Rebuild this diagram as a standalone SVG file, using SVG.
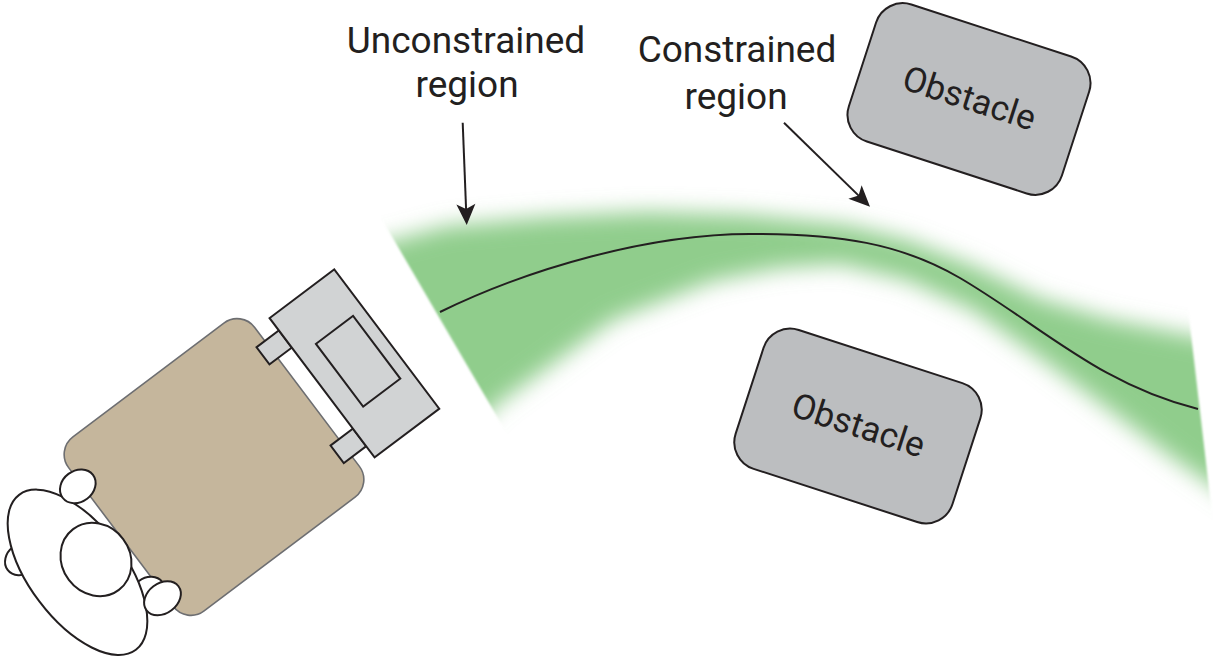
<svg xmlns="http://www.w3.org/2000/svg" width="1224" height="662" viewBox="0 0 1224 662">
  <defs>
    <style>
      .ink { stroke: #231f20; stroke-width: 2; }
      .label { font-family: Roboto, "Open Sans", "Liberation Sans", sans-serif; font-size: 37px; fill: #231f20; text-anchor: middle; }
      .obs-text { font-family: Roboto, "Open Sans", "Liberation Sans", sans-serif; font-size: 35px; fill: #231f20; text-anchor: middle; }
      .obstacle { fill: #bcbec0; stroke: #231f20; stroke-width: 2; }
      .device { fill: #d1d3d4; stroke: #231f20; stroke-width: 2; }
      .body { fill: #c5b69c; stroke: #6d6e71; stroke-width: 1.6; }
      .person { fill: #ffffff; stroke: #231f20; stroke-width: 2; }
    </style>
    <!-- soft edge of the corridor -->
    <filter id="corridorBlur" filterUnits="userSpaceOnUse" x="300" y="140" width="980" height="440">
      <feGaussianBlur stdDeviation="11"/>
    </filter>
    <filter id="edgeSoften" filterUnits="userSpaceOnUse" x="300" y="140" width="980" height="440">
      <feGaussianBlur stdDeviation="1.2"/>
    </filter>
    <!-- straight cut at both ends of the corridor -->
    <clipPath id="corridorClip">
      <polygon points="359,180 1173,180 1215,540 569,540"/>
    </clipPath>
    <marker id="arrowHead" markerUnits="userSpaceOnUse" markerWidth="30" markerHeight="30" viewBox="-15 -15 30 30" refX="0" refY="0" orient="auto">
      <path d="M8,0 L-13,-9.5 L-8,0 L-13,9.5 Z" fill="#231f20"/>
    </marker>
  </defs>

  <rect width="1224" height="662" fill="#ffffff"/>

  <!-- corridor of feasible motion -->
  <g id="corridor" filter="url(#edgeSoften)">
    <g clip-path="url(#corridorClip)">
      <polygon filter="url(#corridorBlur)" fill="#90cd8c"
        points="340,250 380,244 447,226 547,217 647,212 747,215 847,225 907,240 973,266 1040,299 1107,319 1173,332 1240,345 1240,505 1173,458 1107,408 1040,358 973,310 907,280 840,264 780,268 713,281 613,320 547,368 500,402 460,440 400,420"/>
    </g>
  </g>

  <!-- planned trajectory -->
  <g id="trajectory">
    <path class="ink" fill="none" d="M440,312 C530,268 650,234 750,234 C840,234 900,243 960,278 C1040,325 1100,385 1198,409"/>
  </g>

  <!-- obstacles -->
  <g id="obstacle-top" transform="translate(969,99) rotate(18)">
    <rect class="obstacle" x="-112" y="-72" width="224" height="144" rx="28" ry="28"/>
    <text class="obs-text" x="0" y="11">Obstacle</text>
  </g>
  <g id="obstacle-bottom" transform="translate(858,426) rotate(18)">
    <rect class="obstacle" x="-114" y="-73" width="228" height="146" rx="28" ry="28"/>
    <text class="obs-text" x="0" y="11">Obstacle</text>
  </g>

  <!-- cart with sensor unit -->
  <g id="cart" transform="translate(214,467) rotate(-37)">
    <rect class="body" x="-116.5" y="-109" width="233" height="218" rx="22" ry="22"/>
    <rect class="device" x="106" y="-70" width="28" height="21.5"/>
    <rect class="device" x="106" y="53" width="28" height="22"/>
    <rect class="device" x="134" y="-85.5" width="81" height="174.5"/>
    <rect class="device" x="155.5" y="-37" width="46.5" height="78.5"/>
  </g>

  <!-- operator seen from above -->
  <g id="operator">
    <ellipse class="person" cx="22" cy="559" rx="18" ry="15" transform="rotate(-37 22 559)"/>
    <ellipse class="person" cx="148" cy="593" rx="18" ry="15" transform="rotate(-37 148 593)"/>
    <ellipse class="person" cx="77.5" cy="572.3" rx="48" ry="97" transform="rotate(-37 77.5 572.3)"/>
    <ellipse class="person" cx="96" cy="559.5" rx="34" ry="38" transform="rotate(-37 96 559.5)"/>
    <ellipse class="person" cx="77.8" cy="486.3" rx="19" ry="15.5" transform="rotate(-37 77.8 486.3)"/>
    <ellipse class="person" cx="162.5" cy="598.3" rx="20" ry="15" transform="rotate(-37 162.5 598.3)"/>
  </g>

  <!-- labels -->
  <g id="label-unconstrained">
    <text class="label" x="466" y="52.5">Unconstrained</text>
    <text class="label" x="467" y="96.5">region</text>
  </g>
  <g id="label-constrained">
    <text class="label" x="737" y="61.7">Constrained</text>
    <text class="label" x="736" y="109">region</text>
  </g>

  <!-- pointers -->
  <g id="connectors" class="ink" fill="none">
    <line x1="462.7" y1="122.7" x2="466.4" y2="217" marker-end="url(#arrowHead)"/>
    <line x1="784" y1="122.7" x2="864.3" y2="201.1" marker-end="url(#arrowHead)"/>
  </g>
</svg>
